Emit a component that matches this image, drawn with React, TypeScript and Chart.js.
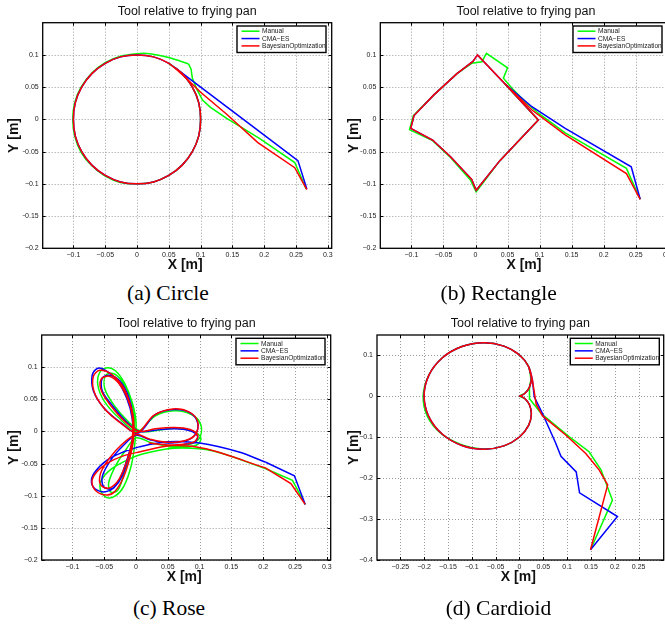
import React, { useEffect, useRef } from 'react';
import { Chart, registerables } from 'chart.js';

Chart.register(...registerables);

type Pt = [number, number];

const seriesLabels = ['Manual', 'CMA\u2212ES', 'BayesianOptimization'];
const seriesColors = ['#00ff00', '#0000ff', '#ff0000'];
const plotTitle = 'Tool relative to frying pan';
const xAxisLabel = 'X [m]';
const yAxisLabel = 'Y [m]';

const ticksX = [-0.1, -0.05, 0, 0.05, 0.1, 0.15, 0.2, 0.25, 0.3];
const ticksXLabels = ['\u22120.1', '\u22120.05', '0', '0.05', '0.1', '0.15', '0.2', '0.25', '0.3'];
const ticksY = [-0.2, -0.15, -0.1, -0.05, 0, 0.05, 0.1];
const ticksYLabels = ['\u22120.2', '\u22120.15', '\u22120.1', '\u22120.05', '0', '0.05', '0.1'];
const ticksXCard = [-0.25, -0.2, -0.15, -0.1, -0.05, 0, 0.05, 0.1, 0.15, 0.2, 0.25];
const ticksXCardLabels = ['\u22120.25', '\u22120.2', '\u22120.15', '\u22120.1', '\u22120.05', '0', '0.05', '0.1', '0.15', '0.2', '0.25'];
const ticksYCard = [-0.4, -0.3, -0.2, -0.1, 0, 0.1];
const ticksYCardLabels = ['\u22120.4', '\u22120.3', '\u22120.2', '\u22120.1', '0', '0.1'];

// (a) Circle : approach path (straight pieces) and loop (smooth)
const circleManualTail: Pt[] = [
  [0.266, -0.108], [0.248, -0.067], [0.193, -0.03], [0.172, -0.017], [0.141, 0.0015], [0.115, 0.019], [0.103, 0.03],
  [0.094, 0.047], [0.087, 0.064], [0.085, 0.078], [0.081, 0.086],
];
const circleManualLoop: Pt[] = [
  [0.081, 0.086], [0.05, 0.096], [0.02, 0.102], [0, 0.102],
  [-0.026, 0.098], [-0.05, 0.088], [-0.071, 0.072], [-0.088, 0.05], [-0.098, 0.026], [-0.101, 0], [-0.098, -0.026],
  [-0.088, -0.051], [-0.071, -0.072], [-0.05, -0.088], [-0.026, -0.098], [0, -0.1], [0.026, -0.097], [0.05, -0.087],
  [0.071, -0.071], [0.087, -0.05], [0.097, -0.026], [0.1, 0], [0.097, 0.026], [0.087, 0.05], [0.071, 0.071], [0.05, 0.087],
];
const circleCmaTail: Pt[] = [
  [0.267, -0.108], [0.253, -0.064], [0.214, -0.035], [0.162, 0.004], [0.06, 0.08],
];
const circleCmaLoop: Pt[] = [
  [0.06, 0.08], [0.05, 0.087], [0.026, 0.097],
  [0, 0.1], [-0.026, 0.097], [-0.05, 0.087], [-0.071, 0.071], [-0.087, 0.05], [-0.097, 0.026], [-0.1, 0],
  [-0.097, -0.026], [-0.087, -0.05], [-0.071, -0.071], [-0.05, -0.087], [-0.026, -0.097], [0, -0.1], [0.026, -0.097],
  [0.05, -0.087], [0.071, -0.071], [0.087, -0.05], [0.097, -0.026], [0.1, 0], [0.097, 0.026], [0.087, 0.05],
  [0.071, 0.071], [0.06, 0.08],
];
const circleBayesTail: Pt[] = [
  [0.267, -0.109], [0.248, -0.075], [0.19, -0.036], [0.141, 0.008], [0.1, 0.042], [0.075, 0.066],
];
const circleBayesLoop: Pt[] = [
  [0.075, 0.066], [0.05, 0.087],
  [0.026, 0.097], [0, 0.1], [-0.026, 0.097], [-0.05, 0.087], [-0.071, 0.071], [-0.087, 0.05], [-0.097, 0.026],
  [-0.1, 0], [-0.097, -0.026], [-0.087, -0.05], [-0.071, -0.071], [-0.05, -0.087], [-0.026, -0.097], [0, -0.1],
  [0.026, -0.097], [0.05, -0.087], [0.071, -0.071], [0.087, -0.05], [0.097, -0.026], [0.1, 0], [0.097, 0.026],
  [0.087, 0.05], [0.071, 0.071], [0.06, 0.08],
];

// (b) Rectangle
const rectManual: Pt[] = [
  [0.257, -0.124], [0.2355, -0.076], [0.14, -0.021], [0.1, 0.008], [0.08, 0.025], [0.06, 0.045], [0.0435, 0.064],
  [0.05, 0.08], [0.017, 0.1025], [0.01, 0.0895], [-0.006, 0.087], [-0.029, 0.071], [-0.065, 0.038], [-0.097, 0.006],
  [-0.103, -0.016], [-0.067, -0.033], [-0.039, -0.059], [-0.008, -0.094], [0.001, -0.1125], [0.038, -0.064],
  [0.098, -0.001], [0.045, 0.056],
];
const rectCma: Pt[] = [
  [0.257, -0.124], [0.243, -0.0735], [0.14, -0.014], [0.088, 0.0196], [0.045, 0.056], [0.003, 0.1], [-0.004, 0.09],
  [-0.029, 0.071], [-0.065, 0.038], [-0.096, 0.006], [-0.101, -0.014], [-0.067, -0.032], [-0.039, -0.058],
  [-0.006, -0.093], [0.001, -0.11], [0.038, -0.064], [0.098, -0.001], [0.045, 0.056], [0.02, 0.082],
];
const rectBayes: Pt[] = [
  [0.257, -0.124], [0.2355, -0.084], [0.14, -0.024], [0.088, 0.0145], [0.045, 0.056], [0.003, 0.1], [-0.004, 0.09],
  [-0.029, 0.071], [-0.065, 0.038], [-0.096, 0.006], [-0.101, -0.014], [-0.067, -0.032], [-0.039, -0.058],
  [-0.006, -0.093], [0.001, -0.11], [0.038, -0.064], [0.098, -0.001], [0.045, 0.056], [0.02, 0.082],
];

// (c) Rose
const roseManualTail: Pt[] = [[0.266, -0.1135], [0.246, -0.076], [0.204, -0.058]];
const roseManualLoop: Pt[] = [
  [0.204, -0.058], [0.12, -0.03], [0.06, -0.026], [0.01, -0.035],
  [-0.015, -0.045], [-0.038, -0.058], [-0.054, -0.075], [-0.056, -0.091], [-0.046, -0.103], [-0.032, -0.1],
  [-0.019, -0.085], [-0.008, -0.055], [-0.002, -0.02],
  [0.0, 0.015], [-0.006, 0.045], [-0.018, 0.075], [-0.032, 0.094], [-0.045, 0.099], [-0.057, 0.092],
  [-0.06, 0.072], [-0.05, 0.047], [-0.028, 0.022], [0.002, 0.0],
  [0.03, 0.024], [0.06, 0.032], [0.088, 0.026], [0.102, 0.01], [0.1, -0.01], [0.085, -0.02], [0.055, -0.023],
  [0.025, -0.018], [0.0, -0.01],
  [-0.017, -0.03], [-0.033, -0.055], [-0.043, -0.08], [-0.04, -0.094], [-0.029, -0.092], [-0.02, -0.07],
  [-0.01, -0.04], [-0.004, -0.01],
  [-0.003, 0.025], [-0.01, 0.055], [-0.022, 0.078], [-0.036, 0.09], [-0.048, 0.087], [-0.049, 0.066],
  [-0.034, 0.04], [-0.012, 0.015], [0.008, 0.0],
  [0.035, 0.002], [0.065, 0.005], [0.09, 0.0], [0.102, -0.01], [0.097, -0.02], [0.08, -0.024], [0.05, -0.024],
];
const roseCmaTail: Pt[] = [[0.266, -0.1135], [0.249, -0.069], [0.204, -0.048]];
const roseCmaLoop: Pt[] = [
  [0.204, -0.048], [0.162, -0.032], [0.1, -0.018], [0.05, -0.016], [0.005, -0.024],
  [-0.02, -0.032], [-0.046, -0.045], [-0.066, -0.065], [-0.07, -0.08], [-0.062, -0.091], [-0.048, -0.094],
  [-0.035, -0.088], [-0.022, -0.07], [-0.012, -0.04], [-0.005, -0.01],
  [-0.006, 0.02], [-0.014, 0.05], [-0.03, 0.08], [-0.048, 0.095], [-0.061, 0.098], [-0.069, 0.087],
  [-0.067, 0.063], [-0.05, 0.036], [-0.022, 0.012], [0.003, -0.003],
  [0.03, 0.026], [0.06, 0.034], [0.085, 0.029], [0.097, 0.013], [0.093, -0.005], [0.077, -0.015], [0.05, -0.018],
  [0.022, -0.013], [0.0, -0.006],
  [-0.02, -0.022], [-0.04, -0.045], [-0.053, -0.07], [-0.051, -0.086], [-0.038, -0.089], [-0.025, -0.072],
  [-0.013, -0.04], [-0.005, -0.01],
  [-0.005, 0.025], [-0.012, 0.055], [-0.025, 0.078], [-0.04, 0.087], [-0.053, 0.083], [-0.053, 0.063],
  [-0.037, 0.04], [-0.015, 0.015], [0.005, 0.0],
  [0.03, 0.002], [0.06, 0.004], [0.085, 0.001], [0.097, -0.008], [0.092, -0.017], [0.075, -0.02],
];
const roseBayesTail: Pt[] = [[0.266, -0.1135], [0.2435, -0.081], [0.204, -0.057]];
const roseBayesLoop: Pt[] = [
  [0.204, -0.057], [0.11, -0.027], [0.057, -0.022], [0.005, -0.032],
  [-0.02, -0.038], [-0.046, -0.05], [-0.065, -0.067], [-0.069, -0.082], [-0.06, -0.095], [-0.045, -0.099],
  [-0.033, -0.093], [-0.02, -0.072], [-0.01, -0.042], [-0.004, -0.012],
  [-0.004, 0.02], [-0.01, 0.045], [-0.022, 0.072], [-0.04, 0.09], [-0.057, 0.095], [-0.067, 0.086],
  [-0.066, 0.062], [-0.051, 0.037], [-0.024, 0.013], [0.002, -0.002],
  [0.028, 0.025], [0.058, 0.035], [0.084, 0.03], [0.097, 0.015], [0.094, -0.004], [0.078, -0.014], [0.05, -0.017],
  [0.022, -0.012], [0.0, -0.005],
  [-0.022, -0.02], [-0.042, -0.042], [-0.056, -0.066], [-0.055, -0.084], [-0.042, -0.088], [-0.027, -0.075],
  [-0.014, -0.045], [-0.006, -0.012],
  [-0.006, 0.025], [-0.015, 0.055], [-0.028, 0.076], [-0.042, 0.086], [-0.055, 0.081], [-0.054, 0.062],
  [-0.038, 0.038], [-0.016, 0.014], [0.005, 0.0],
  [0.03, 0.004], [0.06, 0.006], [0.085, 0.003], [0.097, -0.006], [0.092, -0.016], [0.075, -0.02], [0.05, -0.021],
  [0.02, -0.018],
];

// (d) Cardioid
const cardManualTail: Pt[] = [
  [0.149, -0.375], [0.195, -0.254], [0.171, -0.18], [0.146, -0.136], [0.104, -0.099], [0.045, -0.042],
  [0.022, -0.008], [0.021, 0.02], [0.024, 0.04],
];
const cardManualLoop: Pt[] = [
  [0.024, 0.04], [0.0192, 0.0716], [0, 0.1], [-0.0326, 0.1216], [-0.075, 0.13],
  [-0.1207, 0.1207], [-0.1616, 0.0933], [-0.19, 0.051], [-0.202, 0], [-0.193, -0.05], [-0.166, -0.09],
  [-0.123, -0.118], [-0.075, -0.129], [-0.0326, -0.1216], [0, -0.1], [0.0192, -0.0716], [0.025, -0.0433],
  [0.0207, -0.0207], [0.0116, -0.0067], [0, 0], [0.0116, 0.0067], [0.0207, 0.0207], [0.025, 0.0433],
];
const cardCmaTail: Pt[] = [
  [0.149, -0.375], [0.2055, -0.294], [0.126, -0.236], [0.119, -0.185], [0.087, -0.147], [0.075, -0.112],
  [0.048, -0.042], [0.031, -0.002], [0.027, 0.04],
];
const cardCmaLoop: Pt[] = [
  [0.027, 0.04], [0.0192, 0.0716], [0, 0.1], [-0.0326, 0.1216], [-0.075, 0.1299],
  [-0.1207, 0.1207], [-0.1616, 0.0933], [-0.1899, 0.0509], [-0.2, 0], [-0.1899, -0.0509], [-0.1616, -0.0933],
  [-0.1207, -0.1207], [-0.075, -0.1299], [-0.0326, -0.1216], [0, -0.1], [0.0192, -0.0716], [0.025, -0.0433],
  [0.0207, -0.0207], [0.0116, -0.0067], [0.0033, -0.0009], [0, 0], [0.0033, 0.0009], [0.0116, 0.0067],
  [0.0207, 0.0207], [0.025, 0.0433], [0.0192, 0.0716],
];
const cardBayesTail: Pt[] = [
  [0.149, -0.375], [0.185, -0.217], [0.167, -0.18], [0.139, -0.14], [0.097, -0.095], [0.048, -0.048],
  [0.035, -0.02], [0.031, 0.01], [0.027, 0.04],
];
const cardBayesLoop: Pt[] = [
  [0.027, 0.04], [0.0192, 0.0716], [0, 0.1], [-0.0326, 0.1216], [-0.075, 0.1299],
  [-0.1207, 0.1207], [-0.1616, 0.0933], [-0.1899, 0.0509], [-0.2, 0], [-0.1899, -0.0509], [-0.1616, -0.0933],
  [-0.1207, -0.1207], [-0.075, -0.1299], [-0.0326, -0.1216], [0, -0.1], [0.0192, -0.0716], [0.025, -0.0433],
  [0.0207, -0.0207], [0.0116, -0.0067], [0.0033, -0.0009], [0, 0], [0.0033, 0.0009], [0.0116, 0.0067],
  [0.0207, 0.0207], [0.025, 0.0433], [0.0192, 0.0716],
];

const SANS = '"Liberation Sans", Arial, Helvetica, sans-serif';
const SMOOTH = 0.33;

type Part = { pts: Pt[]; smooth: boolean };
type Area = { left: number; top: number; right: number; bottom: number };
type PanelCfg = {
  key: string;
  caption: string;
  captionX: number;
  captionBase: number;
  series: Part[][];
  xMin: number; xMax: number; yMin: number; yMax: number;
  xTicks: number[]; xLabels: string[]; yTicks: number[]; yLabels: string[];
  area: Area;
  legendRight: number;
  yLabelX: number;
};

const panels: PanelCfg[] = [
  {
    key: 'a', caption: '(a) Circle', captionX: 168, captionBase: 301,
    series: [
      [{ pts: circleManualTail, smooth: false }, { pts: circleManualLoop, smooth: true }],
      [{ pts: circleCmaTail, smooth: false }, { pts: circleCmaLoop, smooth: true }],
      [{ pts: circleBayesTail, smooth: false }, { pts: circleBayesLoop, smooth: true }],
    ],
    xMin: -0.1483, xMax: 0.3061, yMin: -0.2, yMax: 0.15,
    xTicks: ticksX, xLabels: ticksXLabels, yTicks: ticksY, yLabels: ticksYLabels,
    area: { left: 42.7, top: 22.7, right: 331.7, bottom: 248.3 }, legendRight: 326, yLabelX: 14.2,
  },
  {
    key: 'b', caption: '(b) Rectangle', captionX: 498.7, captionBase: 301,
    series: [
      [{ pts: rectManual, smooth: false }],
      [{ pts: rectCma, smooth: false }],
      [{ pts: rectBayes, smooth: false }],
    ],
    xMin: -0.1486, xMax: 0.306, yMin: -0.2, yMax: 0.15,
    xTicks: ticksX, xLabels: ticksXLabels, yTicks: ticksY, yLabels: ticksYLabels,
    area: { left: 380.3, top: 22.7, right: 671.6, bottom: 248.3 }, legendRight: 662, yLabelX: 353.7,
  },
  {
    key: 'c', caption: '(c) Rose', captionX: 169, captionBase: 616.5,
    series: [
      [{ pts: roseManualTail, smooth: false }, { pts: roseManualLoop, smooth: true }],
      [{ pts: roseCmaTail, smooth: false }, { pts: roseCmaLoop, smooth: true }],
      [{ pts: roseBayesTail, smooth: false }, { pts: roseBayesLoop, smooth: true }],
    ],
    xMin: -0.1483, xMax: 0.3061, yMin: -0.2, yMax: 0.15,
    xTicks: ticksX, xLabels: ticksXLabels, yTicks: ticksY, yLabels: ticksYLabels,
    area: { left: 41.7, top: 335, right: 330.7, bottom: 560 }, legendRight: 325, yLabelX: 14.2,
  },
  {
    key: 'd', caption: '(d) Cardioid', captionX: 498.5, captionBase: 616.5,
    series: [
      [{ pts: cardManualTail, smooth: false }, { pts: cardManualLoop, smooth: true }],
      [{ pts: cardCmaTail, smooth: false }, { pts: cardCmaLoop, smooth: true }],
      [{ pts: cardBayesTail, smooth: false }, { pts: cardBayesLoop, smooth: true }],
    ],
    xMin: -0.2988, xMax: 0.3025, yMin: -0.4, yMax: 0.1488,
    xTicks: ticksXCard, xLabels: ticksXCardLabels, yTicks: ticksYCard, yLabels: ticksYCardLabels,
    area: { left: 377, top: 335, right: 663.7, bottom: 560 }, legendRight: 659.3, yLabelX: 353.7,
  },
];

const framePlugin: any = {
  id: 'mframe',
  beforeDatasetsDraw(chart: any, _args: any, o: any) {
    const { ctx, chartArea: ca, scales } = chart;
    ctx.save();
    ctx.strokeStyle = '#9a9a9a';
    ctx.lineWidth = 1;
    ctx.setLineDash([1, 2]);
    ctx.beginPath();
    for (const v of o.xTicks) {
      const p = Math.round(scales.x.getPixelForValue(v)) + 0.5;
      ctx.moveTo(p, ca.top);
      ctx.lineTo(p, ca.bottom);
    }
    for (const v of o.yTicks) {
      const p = Math.round(scales.y.getPixelForValue(v)) + 0.5;
      ctx.moveTo(ca.left, p);
      ctx.lineTo(ca.right, p);
    }
    ctx.stroke();
    ctx.restore();
  },
  afterDatasetsDraw(chart: any, _args: any, o: any) {
    const { ctx, chartArea: ca, scales } = chart;
    ctx.save();
    ctx.setLineDash([]);
    ctx.strokeStyle = '#000';
    ctx.lineWidth = 1.3;
    ctx.strokeRect(ca.left, ca.top, ca.right - ca.left, ca.bottom - ca.top);
    ctx.lineWidth = 1;
    ctx.beginPath();
    for (const v of o.xTicks) {
      const p = Math.round(scales.x.getPixelForValue(v)) + 0.5;
      ctx.moveTo(p, ca.bottom); ctx.lineTo(p, ca.bottom - 3);
      ctx.moveTo(p, ca.top); ctx.lineTo(p, ca.top + 3);
    }
    for (const v of o.yTicks) {
      const p = Math.round(scales.y.getPixelForValue(v)) + 0.5;
      ctx.moveTo(ca.left, p); ctx.lineTo(ca.left + 3, p);
      ctx.moveTo(ca.right, p); ctx.lineTo(ca.right - 3, p);
    }
    ctx.stroke();

    // legend box
    const bw = 89, bh = 26.5;
    const bx = o.legendRight - bw;
    const by = ca.top + 3.3;
    ctx.fillStyle = '#fff';
    ctx.fillRect(bx, by, bw, bh);
    ctx.lineWidth = 1.4;
    ctx.strokeStyle = '#000';
    ctx.strokeRect(bx, by, bw, bh);
    seriesLabels.forEach((label, i) => {
      const yy = by + 5.2 + i * 7.35;
      ctx.strokeStyle = seriesColors[i];
      ctx.lineWidth = 1.5;
      ctx.beginPath();
      ctx.moveTo(bx + 4.5, yy);
      ctx.lineTo(bx + 22.5, yy);
      ctx.stroke();
      ctx.fillStyle = '#222';
      ctx.font = '6.6px ' + SANS;
      ctx.textAlign = 'left';
      ctx.textBaseline = 'middle';
      ctx.fillText(label, bx + 25, yy + 0.3);
    });
    ctx.restore();
  },
  afterDraw(chart: any, _args: any, o: any) {
    const { ctx, chartArea: ca } = chart;
    const cx = (ca.left + ca.right) / 2;
    const cy = (ca.top + ca.bottom) / 2;
    ctx.save();
    ctx.fillStyle = '#111';
    ctx.textAlign = 'center';
    ctx.textBaseline = 'middle';
    ctx.font = '12.5px ' + SANS;
    ctx.fillText(plotTitle, cx, ca.top - 11);
    ctx.font = 'bold 14px ' + SANS;
    ctx.fillText(xAxisLabel, cx - 2, ca.bottom + 17);
    ctx.translate(o.yLabelX, cy);
    ctx.rotate(-Math.PI / 2);
    ctx.fillText(yAxisLabel, 0, 0);
    ctx.restore();
  },
};

function Panel({ p }: { p: PanelCfg }) {
  const ref = useRef<HTMLCanvasElement | null>(null);
  const a = p.area;
  const cLeft = Math.floor(a.left) - 42;
  const cTop = Math.floor(a.top) - 22;
  const cW = Math.ceil(a.right) - cLeft + 8;
  const cH = Math.ceil(a.bottom) - cTop + 30;

  useEffect(() => {
    const YW = 20;
    const XH = 18;
    const tickFont = { family: SANS, size: 7 };
    const datasets: any[] = [];
    p.series.forEach((parts, i) => {
      parts.forEach((part) => {
        datasets.push({
          label: seriesLabels[i],
          data: part.pts.map(([x, y]) => ({ x, y })),
          borderColor: seriesColors[i],
          backgroundColor: seriesColors[i],
          showLine: true,
          borderWidth: 1.5,
          pointRadius: 0,
          pointHoverRadius: 0,
          tension: part.smooth ? SMOOTH : 0,
          fill: false,
          order: 3 - i,
        });
      });
    });
    const chart = new Chart(ref.current as HTMLCanvasElement, {
      type: 'scatter',
      data: { datasets },
      options: {
        animation: false,
        responsive: false,
        maintainAspectRatio: false,
        events: [],
        layout: {
          padding: {
            left: a.left - cLeft - YW,
            top: a.top - cTop,
            right: cW - (a.right - cLeft),
            bottom: cH - (a.bottom - cTop) - XH,
          },
        },
        scales: {
          x: {
            type: 'linear',
            position: 'bottom',
            min: p.xMin,
            max: p.xMax,
            grid: { display: false, drawTicks: false, tickLength: 0 },
            border: { display: false },
            afterBuildTicks: (s: any) => { s.ticks = p.xTicks.map((v) => ({ value: v })); },
            afterFit: (s: any) => { s.height = XH; },
            ticks: {
              autoSkip: false, maxRotation: 0, minRotation: 0, padding: 3, color: '#222', font: tickFont,
              callback: (_v: any, i: number) => p.xLabels[i],
            },
          },
          y: {
            type: 'linear',
            position: 'left',
            min: p.yMin,
            max: p.yMax,
            grid: { display: false, drawTicks: false, tickLength: 0 },
            border: { display: false },
            afterBuildTicks: (s: any) => { s.ticks = p.yTicks.map((v) => ({ value: v })); },
            afterFit: (s: any) => { s.width = YW; },
            ticks: {
              autoSkip: false, padding: 4, color: '#222', font: tickFont,
              callback: (_v: any, i: number) => p.yLabels[i],
            },
          },
        },
        plugins: {
          legend: { display: false },
          title: { display: false },
          tooltip: { enabled: false },
          mframe: {
            xTicks: p.xTicks,
            yTicks: p.yTicks,
            legendRight: p.legendRight - cLeft,
            yLabelX: p.yLabelX - cLeft,
          },
        } as any,
      } as any,
      plugins: [framePlugin],
    });
    return () => chart.destroy();
  }, []);

  return (
    <canvas
      ref={ref}
      width={cW}
      height={cH}
      style={{ position: 'absolute', left: cLeft, top: cTop, width: cW, height: cH }}
    />
  );
}

export default function App() {
  const capSize = 21.5;
  return (
    <div
      style={{
        position: 'absolute', left: 0, top: 0, width: 665, height: 624,
        overflow: 'hidden', background: '#fff',
      }}
    >
      {panels.map((p) => (
        <Panel key={p.key} p={p} />
      ))}
      {panels.map((p) => (
        <div
          key={'cap' + p.key}
          style={{
            position: 'absolute',
            left: p.captionX - 100,
            width: 200,
            textAlign: 'center',
            top: p.captionBase - capSize * 0.8375,
            fontFamily: '"Liberation Serif", "Times New Roman", serif',
            fontSize: capSize,
            lineHeight: 1,
            color: '#000',
            whiteSpace: 'nowrap',
          }}
        >
          {p.caption}
        </div>
      ))}
    </div>
  );
}
